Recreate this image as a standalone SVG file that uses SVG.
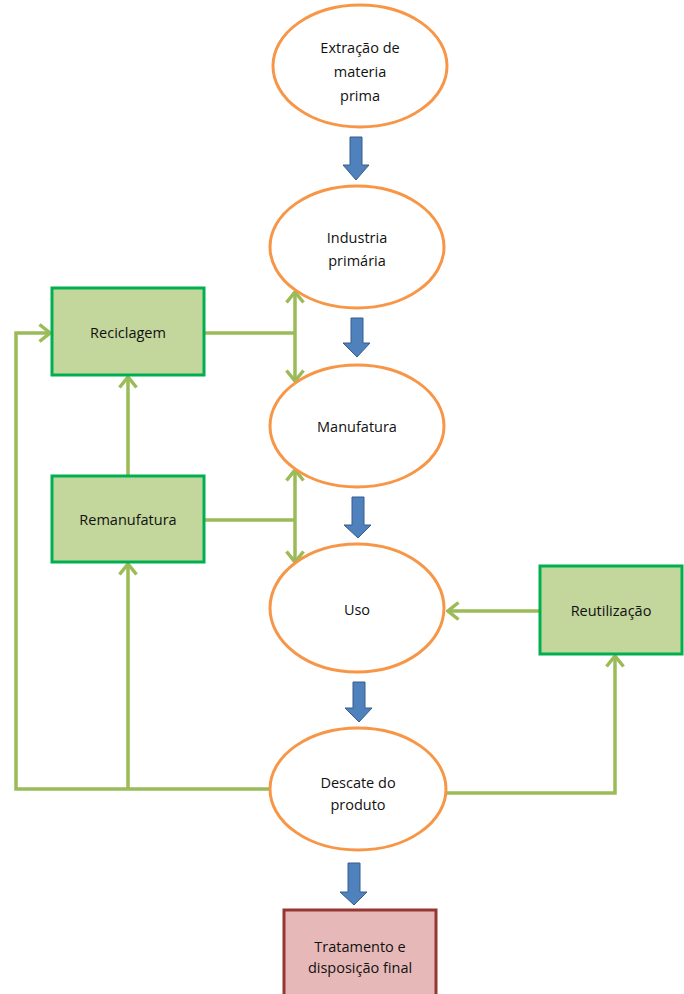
<svg xmlns="http://www.w3.org/2000/svg" width="684" height="994" viewBox="0 0 684 994">
<style>
.ell{fill:#fff;stroke:#f79646;stroke-width:3}
.gbox{fill:#c3d69b;stroke:#00b050;stroke-width:3}
.rbox{fill:#e6b9b8;stroke:#953735;stroke-width:3}
.blue{fill:#4f81bd;stroke:#385d8a;stroke-width:1}
.con{fill:none;stroke:#9bbb59;stroke-width:3.5;stroke-linejoin:miter}
text{font-family:"Open Sans","Liberation Sans",sans-serif;font-size:14.5px;fill:#111;text-anchor:middle}
</style>
<defs>
<marker id="chev" viewBox="0 0 14 20" refX="12" refY="10" markerWidth="14" markerHeight="20" markerUnits="userSpaceOnUse" orient="auto">
<path d="M1.5,1.5 L12,10 L1.5,18.5" fill="none" stroke="#9bbb59" stroke-width="3.5"/>
</marker>
</defs>
<g id="connectors">
<path class="con" d="M204,333 H295"/>
<path class="con" d="M295,333 V292" marker-end="url(#chev)"/>
<path class="con" d="M295,333 V381" marker-end="url(#chev)"/>
<path class="con" d="M204,520 H295"/>
<path class="con" d="M295,520 V470" marker-end="url(#chev)"/>
<path class="con" d="M295,520 V562" marker-end="url(#chev)"/>
<path class="con" d="M270,789 H16 V333 H50" marker-end="url(#chev)"/>
<path class="con" d="M128,789 V564" marker-end="url(#chev)"/>
<path class="con" d="M128,476 V377" marker-end="url(#chev)"/>
<path class="con" d="M446,793 H615 V656" marker-end="url(#chev)"/>
<path class="con" d="M540,611 H448" marker-end="url(#chev)"/>
<path class="blue" d="M350,137 H362 V165 H369 L356,180 L343,165 H350 Z"/>
<path class="blue" d="M351,318 H363 V343 H370 L357,357 L343,343 H351 Z"/>
<path class="blue" d="M352,497 H364 V525 H371 L358,538 L344,525 H352 Z"/>
<path class="blue" d="M353,682 H365 V708 H372 L359,722 L345,708 H353 Z"/>
<path class="blue" d="M348,863 H360 V892 H367 L354,905 L340,892 H348 Z"/>
</g>
<g id="extracao">
<ellipse class="ell" cx="360" cy="66" rx="87" ry="61"/>
<text x="360" y="53">Extração de</text>
<text x="360" y="77">materia</text>
<text x="360" y="101">prima</text>
</g>
<g id="industria">
<ellipse class="ell" cx="357" cy="247" rx="87" ry="61"/>
<text x="357" y="243">Industria</text>
<text x="357" y="266">primária</text>
</g>
<g id="manufatura">
<ellipse class="ell" cx="357" cy="426" rx="87" ry="61"/>
<text x="357" y="432">Manufatura</text>
</g>
<g id="uso">
<ellipse class="ell" cx="357" cy="608" rx="87" ry="64"/>
<text x="357" y="615">Uso</text>
</g>
<g id="descarte">
<ellipse class="ell" cx="358" cy="789" rx="88" ry="61"/>
<text x="358" y="788">Descate do</text>
<text x="358" y="810">produto</text>
</g>
<g id="reciclagem">
<rect class="gbox" x="52" y="288" width="152" height="87"/>
<text x="128" y="338">Reciclagem</text>
</g>
<g id="remanufatura">
<rect class="gbox" x="52" y="476" width="152" height="86"/>
<text x="128" y="525">Remanufatura</text>
</g>
<g id="reutilizacao">
<rect class="gbox" x="540" y="566" width="142" height="88"/>
<text x="611" y="616">Reutilização</text>
</g>
<g id="tratamento">
<rect class="rbox" x="284" y="910" width="152" height="92"/>
<text x="360" y="952">Tratamento e</text>
<text x="360" y="973">disposição final</text>
</g>
</svg>
